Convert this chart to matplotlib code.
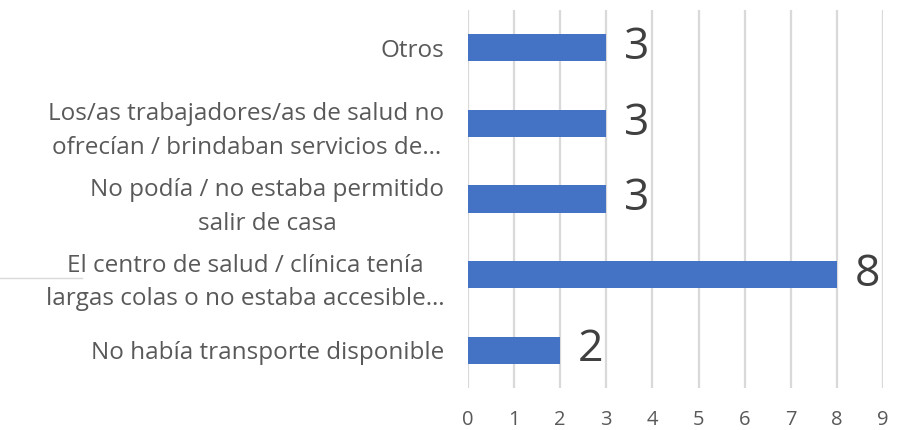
import matplotlib
matplotlib.use('Agg')
import matplotlib.pyplot as plt
from matplotlib.lines import Line2D

plt.rcParams.update({'font.family': ['Open Sans', 'DejaVu Sans']})

BLUE = '#4472C4'; GRID = '#D9D9D9'; TXT = '#595959'; VAL = '#404040'

categorias = ['No había transporte disponible',
              'El centro de salud / clínica tenía\nlargas colas o no estaba accesible…',
              'No podía / no estaba permitido\nsalir de casa',
              'Los/as trabajadores/as de salud no\nofrecían / brindaban servicios de…',
              'Otros']
valores = [2, 8, 3, 3, 3]
ticks_x = list(range(0, 10))

fig = plt.figure(figsize=(9.04, 4.30), dpi=100)
ax = fig.add_axes([0.5177, 0.0977, 0.4591, 0.879])

pos = list(range(len(categorias)))
ax.barh(pos, valores, height=0.36, color=BLUE, zorder=3)
for p, v in zip(pos, valores):
    ax.text(v + 0.38, p, str(v), va='center', ha='left', fontsize=32, color=VAL, zorder=4)

ax.set_xlim(0, 9)
ax.set_ylim(-0.5, 4.5)
ax.set_xticks(ticks_x)
ax.set_xticklabels([str(t) for t in ticks_x], fontsize=14.5, color=TXT)
ax.set_yticks(pos)
ax.set_yticklabels(categorias, fontsize=17.5, color=TXT, multialignment='center', linespacing=1.55)
ax.tick_params(axis='y', length=0, pad=17)
ax.tick_params(axis='x', length=0, pad=16)
ax.grid(axis='x', color=GRID, lw=1.6, zorder=0)
for s in ax.spines.values():
    s.set_visible(False)

# stray rule on the left margin
fig.add_artist(Line2D([0, 82 / 904], [1 - 278 / 430] * 2, color=GRID, lw=1.0, transform=fig.transFigure))

fig.savefig('out.png', dpi=100)
